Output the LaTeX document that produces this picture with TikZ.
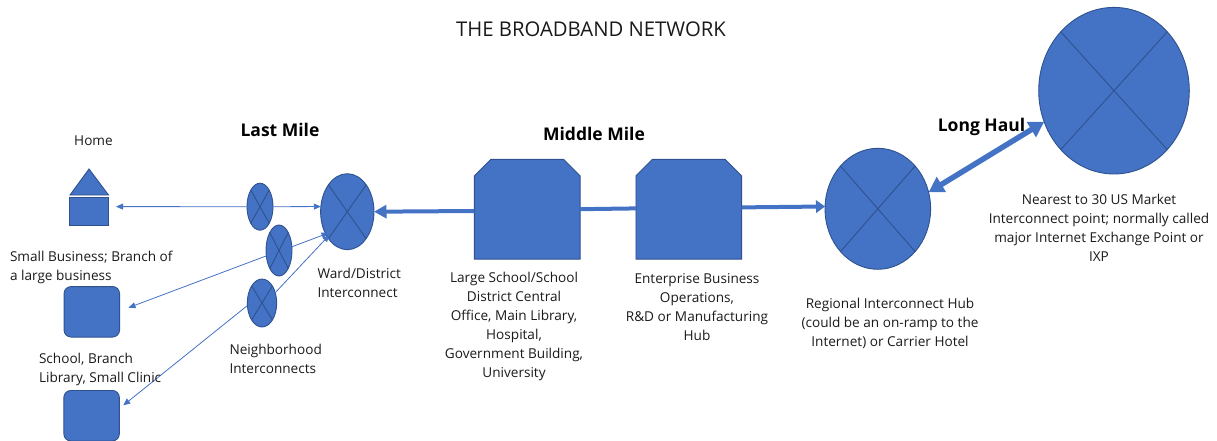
\documentclass[tikz,border=0pt]{standalone}
\usepackage{fontspec}
\setmainfont{Open Sans}
\usetikzlibrary{arrows.meta,shapes.geometric,calc}
\definecolor{blu}{HTML}{4472C4}
\definecolor{edgeblu}{HTML}{2F528F}
\definecolor{txt}{HTML}{1A1A1A}
\tikzset{
 shp/.style={draw=edgeblu,fill=blu,line width=0.9pt,inner sep=0pt,outer sep=0pt},
 oval/.style n args={2}{shp,ellipse,minimum width=#1,minimum height=#2},
 sq/.style={shp,rounded corners=7pt,minimum width=55.5pt,minimum height=50.5pt},
 octa/.style={inner sep=0pt,outer sep=0pt,minimum width=105.7pt,minimum height=99.7pt},
 lab/.style={font=\fontsize{13.6}{19}\selectfont,text=txt,inner sep=0pt,outer sep=0pt},
 head/.style={font=\fontsize{17.5}{20}\selectfont\bfseries,text=black,inner sep=0pt},
 thin arrow/.style={blu,line width=0.8pt,-{Triangle[length=7pt,width=6pt]}},
 mid arrow/.style={blu,line width=4pt},
 cross line/.style={edgeblu,line width=0.9pt},
}
\newcommand{\crossin}[1]{\draw[cross line] (#1.north west)--(#1.south east) (#1.north east)--(#1.south west);}
\newcommand{\octashape}[1]{\draw[shp] (#1.south west) -- ($(#1.north west)+(0,16.5)$) -- ($(#1.north west)+(16.5,0)$) -- ($(#1.north east)+(-16.5,0)$) -- ($(#1.north east)+(0,16.5)$) -- (#1.south east) -- cycle;}
\begin{document}
\begin{tikzpicture}[x=1pt,y=-1pt]
\useasboundingbox (0,0) rectangle (1217,441);
\node[oval={26pt}{47pt}] (e1) at (260,206.7) {};
\node[oval={26pt}{51pt}] (e2) at (279,250.5) {};
\node[oval={29.4pt}{48pt}] (e3) at (262,303) {};
\node[oval={53.4pt}{76pt}] (ward) at (347.3,211.7) {};
\node[oval={105.6pt}{121pt}] (hub) at (877.8,208.8) {};
\node[oval={150.6pt}{166.6pt}] (ixp) at (1114,90.7) {};
\foreach \n in {e1,e2,e3,ward,hub,ixp}{\crossin{\n}}
% home
\node[shp,minimum width=39pt,minimum height=28pt] (house) at (89.3,211) {};
\coordinate (roofL) at (70,195); \coordinate (roofR) at (108.5,195); \coordinate (roofT) at (89,169);
\draw[shp] (roofL)--(roofT)--(roofR)--cycle;
\node[sq] (biz) at (91.8,311.8) {};
\node[sq] (school) at (91.6,415.7) {};
\node[octa] (large) at (527.2,209.2) {};
\node[octa] (ent) at (688.8,209.2) {};
\octashape{large}
\octashape{ent}
% free ends
\coordinate (homeEnd) at (116,206.6);
\coordinate (bizEnd) at (128.5,307.7);
\coordinate (schoolEnd) at (123.3,405.3);
% thin arrows
\draw[thin arrow] (e1.west) -- (homeEnd);
\draw[thin arrow] (e1.east) -- (ward.169);
\draw[thin arrow] (e2.203) -- (bizEnd);
\draw[thin arrow,shorten >=-3pt] (e2.16) -- (ward.226);
\draw[thin arrow,shorten >=-3pt] (e3.38) -- (ward.232);
\draw[thin arrow] (e3.190) -- (schoolEnd);
% thick arrows
\draw[mid arrow,-{Triangle[length=12.5pt,width=13pt]}] ($(large.west)+(0,1.8)$) -- (ward.east);
\draw[mid arrow] (large.east) -- ($(ent.west)+(0,-0.8)$);
\draw[mid arrow,-{Triangle[length=9pt,width=12.5pt]}] ($(ent.east)+(0,-1.8)$) -- ($(hub.west)+(0,-2.3)$);
\draw[blu,line width=5.5pt,{Triangle[length=15pt,width=17pt]}-{Triangle[length=15pt,width=17pt]}] (hub.18) -- (ixp.204);
% text
\node[font=\fontsize{20.3}{24}\selectfont,text=txt,inner sep=0pt] (title) at (591,29) {THE BROADBAND NETWORK};
\node[head] (lastmile) at (280,130) {Last Mile};
\node[head] (midmile) at (594,134) {Middle Mile};
\node[head] (longhaul) at (981.5,127) {Long Haul};
\node[lab] (lhome) at (93.5,140.5) {Home};
\node[lab,anchor=west,align=left] (lbiz) at (10,267) {Small Business; Branch of\\a large business};
\node[lab,anchor=west,align=left] (lschool) at (39,369.5) {School, Branch\\Library, Small Clinic};
\node[lab,anchor=west,align=left] (lneigh) at (229.5,359) {Neighborhood\\Interconnects};
\node[lab,anchor=west,align=left] (lward) at (317.5,283) {Ward/District\\Interconnect};
\node[lab,align=center] (llarge) at (514,326) {Large School/School\\District Central\\Office, Main Library,\\Hospital,\\Government Building,\\University};
\node[lab,align=center] (lent) at (697,307) {Enterprise Business\\Operations,\\R\&D or Manufacturing\\Hub};
\node[lab,align=center] (lhub) at (890,323.5) {Regional Interconnect Hub\\(could be an on-ramp to the\\Internet) or Carrier Hotel};
\node[lab,align=center] (lixp) at (1099,228) {Nearest to 30 US Market\\Interconnect point; normally called\\major Internet Exchange Point or\\IXP};
\end{tikzpicture}
\end{document}
